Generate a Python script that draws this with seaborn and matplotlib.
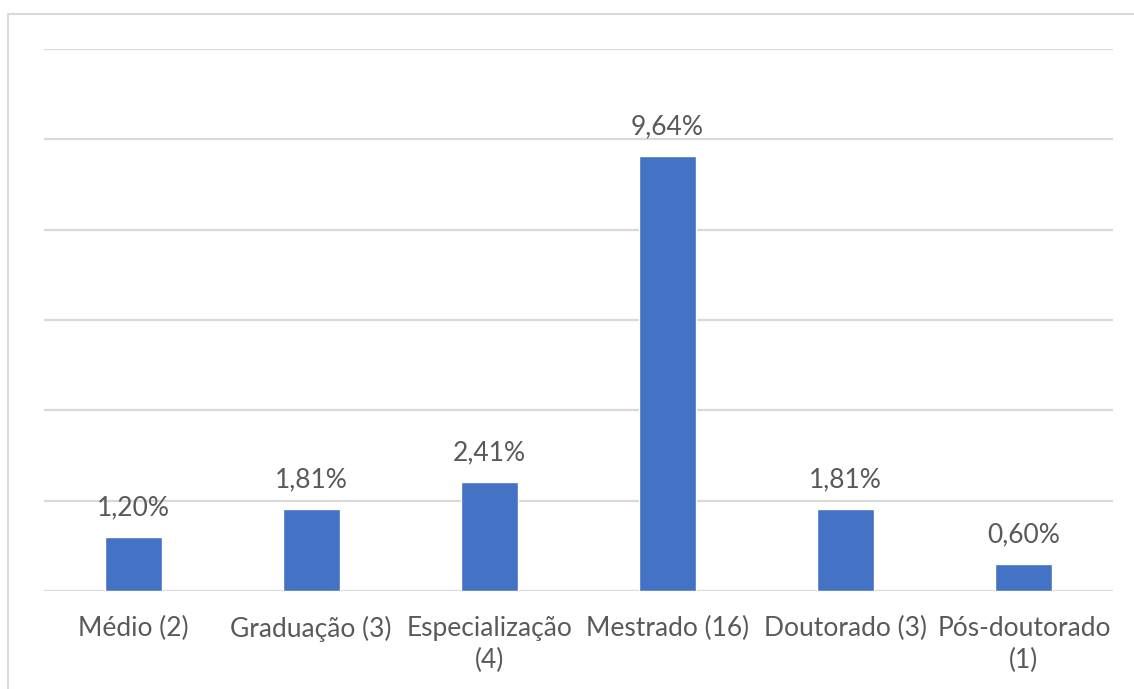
import matplotlib
matplotlib.use('Agg')
import matplotlib.pyplot as plt
import seaborn as sns
import pandas as pd
from matplotlib.patches import Rectangle

# dados
categorias = ['Médio (2)', 'Graduação (3)', 'Especialização\n(4)',
              'Mestrado (16)', 'Doutorado (3)', 'Pós-doutorado\n(1)']
percentuais = [1.20, 1.81, 2.41, 9.64, 1.81, 0.60]
rotulos = ['1,20%', '1,81%', '2,41%', '9,64%', '1,81%', '0,60%']

AZUL = '#4472C4'
CINZA_TEXTO = '#595959'
CINZA_GRADE = '#D9D9D9'

sns.set_theme(style='white')
plt.rcParams['font.family'] = ['Lato', 'DejaVu Sans']

df = pd.DataFrame({'categoria': categorias, 'valor': percentuais})

fig = plt.figure(figsize=(11.34, 6.89), dpi=100)
fig.patches.append(Rectangle((8 / 1134, -0.05), 1.2, (689 - 14) / 689 + 0.05,
                             transform=fig.transFigure, fill=False,
                             edgecolor=CINZA_GRADE, linewidth=1.5))
ax = fig.add_axes([44 / 1134, 98 / 689, (1113 - 44) / 1134, (591 - 49) / 689])

sns.barplot(data=df, x='categoria', y='valor', color=AZUL, width=0.32,
            saturation=1, ax=ax)

ax.set_ylim(0, 12)
ax.set_xlim(-0.5, len(categorias) - 0.5)
ax.set_yticks(range(0, 13, 2))
ax.yaxis.grid(True, color=CINZA_GRADE, linewidth=1.6)
ax.set_axisbelow(True)
ax.set_yticklabels([])
ax.tick_params(axis='y', length=0)
ax.tick_params(axis='x', length=0, pad=18, labelsize=19, labelcolor=CINZA_TEXTO)
for lbl in ax.get_xticklabels():
    lbl.set_linespacing(1.35)
ax.set_xlabel('')
ax.set_ylabel('')
sns.despine(ax=ax, left=True, top=True, right=True, bottom=True)

for barra, txt in zip(ax.patches, rotulos):
    ax.annotate(txt, (barra.get_x() + barra.get_width() / 2, barra.get_height()),
                xytext=(0, 12), textcoords='offset points', ha='center', va='bottom',
                fontsize=19, color=CINZA_TEXTO)

fig.savefig('out.png', dpi=100)
